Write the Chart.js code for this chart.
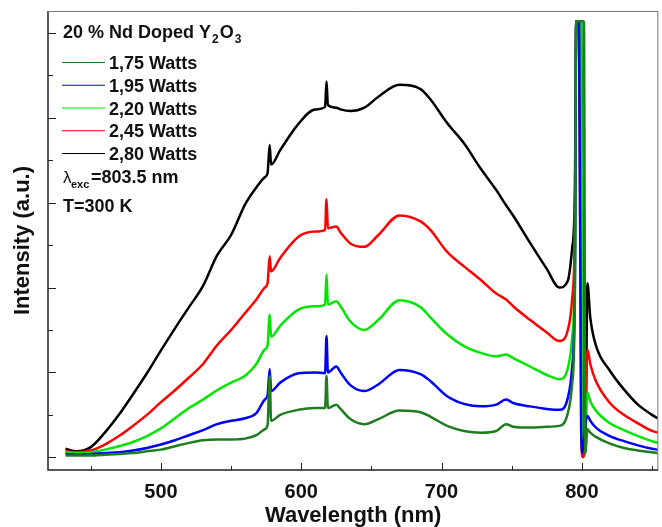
<!DOCTYPE html>
<html>
<head>
<meta charset="utf-8">
<script src="https://cdn.jsdelivr.net/npm/chart.js@4"></script>
<style>
  html, body { margin: 0; padding: 0; background: #fff; }
  #wrap { width: 662px; height: 527px; position: relative; }
</style>
</head>
<body>
<div id="wrap"><canvas id="spectra"></canvas></div>
<script>
// wavelength grid (nm), shared by all spectra
const waves = [432, 440, 450, 460, 470, 480, 490, 500, 510, 520, 530, 540, 550, 560, 568, 574, 576, 577.5, 578.5, 585,
  598, 610, 617, 618, 619, 625, 628, 635, 645, 655, 670, 685, 692, 704, 716, 728, 739, 746, 751, 763,
  775, 784, 790, 793, 795, 796, 798, 799.5, 800.5, 801.5, 802.5, 804, 806, 810, 820, 830, 840, 850, 854];

// intensity (a.u.)
const p175 = [0.02, 0.02, 0.02, 0.03, 0.04, 0.05, 0.07, 0.09, 0.13, 0.17, 0.20, 0.21, 0.21, 0.22, 0.26, 0.33, 0.38, 0.96, 0.43, 0.50,
  0.56, 0.58, 0.58, 0.96, 0.58, 0.62, 0.57, 0.45, 0.39, 0.45, 0.55, 0.53, 0.48, 0.37, 0.31, 0.29, 0.31, 0.39, 0.36, 0.35,
  0.36, 0.37, 0.52, 0.85, 1.80, 5.14, 5.14, 5.14, 5.14, 5.14, 0.05, 0.33, 0.29, 0.24, 0.16, 0.11, 0.08, 0.06, 0.05];
const p195 = [0.04, 0.03, 0.04, 0.05, 0.06, 0.08, 0.11, 0.15, 0.20, 0.26, 0.32, 0.39, 0.43, 0.46, 0.52, 0.68, 0.73, 1.04, 0.78, 0.88,
  0.99, 1.00, 0.99, 1.43, 1.00, 1.07, 1.00, 0.85, 0.78, 0.86, 1.03, 0.98, 0.90, 0.72, 0.63, 0.60, 0.62, 0.68, 0.64, 0.60,
  0.57, 0.56, 0.70, 1.05, 2.00, 5.14, 5.14, 0.30, 0.05, 0.20, 0.40, 0.49, 0.43, 0.35, 0.25, 0.19, 0.14, 0.10, 0.09];
const p220 = [0.06, 0.05, 0.06, 0.09, 0.13, 0.18, 0.25, 0.34, 0.46, 0.58, 0.68, 0.79, 0.88, 0.96, 1.10, 1.27, 1.32, 1.68, 1.42, 1.55,
  1.74, 1.78, 1.80, 2.15, 1.80, 1.84, 1.78, 1.60, 1.50, 1.62, 1.85, 1.77, 1.65, 1.45, 1.31, 1.23, 1.19, 1.21, 1.17, 1.07,
  0.97, 0.92, 1.05, 1.40, 2.30, 5.14, 5.14, 5.14, 0.05, 0.10, 0.40, 0.76, 0.66, 0.55, 0.40, 0.32, 0.25, 0.19, 0.17];
const p245 = [0.07, 0.06, 0.08, 0.15, 0.25, 0.37, 0.50, 0.65, 0.79, 0.94, 1.10, 1.32, 1.50, 1.70, 1.86, 2.00, 2.05, 2.37, 2.19, 2.35,
  2.60, 2.66, 2.68, 3.04, 2.70, 2.72, 2.65, 2.52, 2.48, 2.62, 2.85, 2.78, 2.68, 2.42, 2.25, 2.09, 1.93, 1.86, 1.78, 1.62,
  1.47, 1.37, 1.50, 1.85, 2.70, 5.14, 5.14, 0.50, 0.00, 0.02, 0.60, 1.27, 1.10, 0.90, 0.64, 0.50, 0.40, 0.31, 0.29];
const p280 = [0.10, 0.07, 0.12, 0.29, 0.50, 0.74, 0.99, 1.26, 1.52, 1.77, 2.02, 2.38, 2.62, 2.98, 3.18, 3.30, 3.35, 3.68, 3.45, 3.62,
  3.93, 4.10, 4.13, 4.43, 4.15, 4.12, 4.10, 4.08, 4.12, 4.25, 4.39, 4.34, 4.22, 3.94, 3.70, 3.40, 3.15, 2.97, 2.85, 2.53,
  2.22, 2.00, 2.08, 2.45, 3.10, 5.14, 5.14, 5.14, 3.00, 0.40, 0.05, 2.05, 1.65, 1.32, 1.02, 0.80, 0.62, 0.50, 0.46];

const seriesNames = ['1,75 Watts', '1,95 Watts', '2,20 Watts', '2,45 Watts', '2,80 Watts'];
const seriesColors = ['#1e7d1e', '#0000ff', '#00e600', '#ff0000', '#000000'];
const seriesValues = [p175, p195, p220, p245, p280];

const xTicks = [450, 500, 550, 600, 650, 700, 750, 800, 850];
const yTicks = [0, 0.5, 1, 1.5, 2, 2.5, 3, 3.5, 4, 4.5, 5];

const FONT = "'Liberation Sans', Arial, sans-serif";

const datasets = seriesValues.map((vals, i) => ({
  label: seriesNames[i],
  data: waves.map((w, j) => ({ x: w, y: vals[j] })),
  borderColor: seriesColors[i],
  borderWidth: 2.5,
  pointRadius: 0,
  cubicInterpolationMode: 'monotone',
  fill: false
}));

// frame, inward ticks and the text block in the upper left
const decorations = {
  id: 'decorations',
  afterDatasetsDraw(chart) {
    const { ctx, chartArea: a, scales: { x, y } } = chart;
    ctx.save();
    ctx.strokeStyle = '#222';
    ctx.lineWidth = 1.5;
    ctx.beginPath();
    ctx.moveTo(a.left, a.top);
    ctx.lineTo(a.left, a.bottom);
    ctx.lineTo(a.right, a.bottom);
    ctx.stroke();
    ctx.strokeStyle = '#777';
    ctx.lineWidth = 1;
    ctx.beginPath();
    ctx.moveTo(a.left, a.top + 0.5);
    ctx.lineTo(a.right, a.top + 0.5);
    ctx.moveTo(a.right - 0.5, a.top);
    ctx.lineTo(a.right - 0.5, a.bottom);
    ctx.stroke();

    ctx.strokeStyle = '#222';
    ctx.lineWidth = 1;
    ctx.beginPath();
    xTicks.forEach(v => {
      const px = Math.round(x.getPixelForValue(v)) + 0.5;
      const len = v % 100 === 0 ? 7 : 4;
      ctx.moveTo(px, a.bottom);
      ctx.lineTo(px, a.bottom - len);
    });
    yTicks.forEach(v => {
      const py = Math.round(y.getPixelForValue(v)) + 0.5;
      const len = Number.isInteger(v) ? 8 : 5;
      ctx.moveTo(a.left, py);
      ctx.lineTo(a.left + len, py);
    });
    ctx.stroke();

    // header with subscripts
    ctx.fillStyle = '#111';
    ctx.textBaseline = 'alphabetic';
    ctx.textAlign = 'left';
    const big = 'bold 18px ' + FONT;
    const small = 'bold 12px ' + FONT;
    let cx = 63;
    const parts = [['20 % Nd Doped Y', big, 0], ['2', small, 5], ['O', big, 0], ['3', small, 5]];
    parts.forEach(([t, f, dy]) => {
      ctx.font = f;
      ctx.fillText(t, cx, 38 + dy);
      cx += ctx.measureText(t).width + 1;
    });

    // legend
    seriesNames.forEach((name, i) => {
      const ly = 62.5 + i * 22.75;
      ctx.strokeStyle = seriesColors[i];
      ctx.lineWidth = 1.2;
      ctx.beginPath();
      ctx.moveTo(62, ly);
      ctx.lineTo(105, ly);
      ctx.stroke();
      ctx.font = big;
      ctx.fillStyle = '#111';
      ctx.fillText(name, 109, ly + 6.5);
    });

    // excitation wavelength and temperature
    ctx.font = '17px ' + FONT;
    ctx.fillText('\u03bb', 63, 183);
    ctx.font = 'bold 11px ' + FONT;
    ctx.fillText('exc', 71, 188);
    ctx.font = big;
    ctx.fillText('=803.5 nm', 91, 183);
    ctx.fillText('T=300 K', 63, 212);
    ctx.restore();
  }
};

new Chart(document.getElementById('spectra'), {
  type: 'line',
  data: { datasets },
  options: {
    responsive: true,
    maintainAspectRatio: false,
    animation: false,
    devicePixelRatio: 1,
    layout: { padding: { top: 11, right: 0, left: 0, bottom: 0 } },
    plugins: { legend: { display: false }, tooltip: { enabled: false } },
    scales: {
      x: {
        type: 'linear',
        min: 419.5,
        max: 854.5,
        afterBuildTicks: s => { s.ticks = xTicks.map(v => ({ value: v })); },
        afterFit: s => { s.height = 57; },
        grid: { display: false, drawTicks: false },
        border: { display: false },
        ticks: {
          autoSkip: false,
          maxRotation: 0,
          padding: 10,
          color: '#111',
          font: { family: FONT, size: 20, weight: 'bold' },
          callback: v => (v % 100 === 0 ? String(v) : '')
        },
        title: {
          display: true,
          text: 'Wavelength (nm)',
          color: '#111',
          padding: { top: 0, bottom: 0 },
          font: { family: FONT, size: 22, weight: 'bold', lineHeight: 1 }
        }
      },
      y: {
        min: -0.15,
        max: 5.26,
        afterBuildTicks: s => { s.ticks = yTicks.map(v => ({ value: v })); },
        afterFit: s => { s.width = 48; },
        grid: { display: false, drawTicks: false },
        border: { display: false },
        ticks: { display: false },
        title: {
          display: true,
          text: 'Intensity (a.u.)',
          color: '#111',
          padding: { top: 10, bottom: 0 },
          font: { family: FONT, size: 22, weight: 'bold' }
        }
      }
    }
  },
  plugins: [decorations]
});
</script>
</body>
</html>
